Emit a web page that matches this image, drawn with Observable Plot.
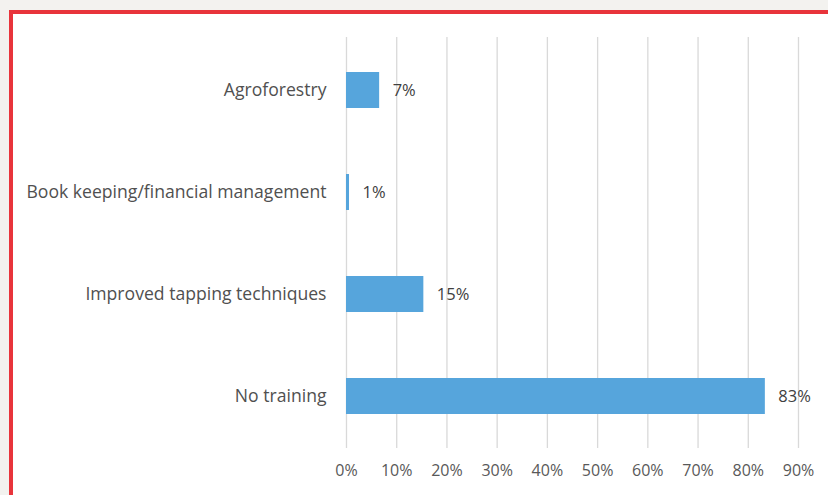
<!DOCTYPE html>
<html><head><meta charset="utf-8">
<script src="https://cdn.jsdelivr.net/npm/d3@7"></script>
<script src="https://cdn.jsdelivr.net/npm/@observablehq/plot@0.6"></script>
<style>
html,body{margin:0;padding:0;width:828px;height:495px;overflow:hidden;background:#f3f2ef;}
#frame{position:absolute;left:9px;top:10px;width:900px;height:600px;border:4px solid #e8343b;background:#fff;}
#chart{position:absolute;left:0;top:0;}
svg{font-family:"Open Sans",sans-serif;}
</style></head><body>
<div id="frame"></div>
<div id="chart"></div>
<script>
const categories = ["Agroforestry","Book keeping/financial management","Improved tapping techniques","No training"];
const values = [6.6, 0.6, 15.4, 83.4];
const xTicks = [0,10,20,30,40,50,60,70,80,90];

const data = categories.map((c,i)=>({category:c, value:values[i], label:Math.round(values[i])+"%"}));

const chart = Plot.plot({
  width: 828, height: 495,
  marginLeft: 346, marginRight: 30, marginTop: 37, marginBottom: 47,
  style: {background:"transparent", fontSize:"16px", fontFamily:"'Open Sans', sans-serif"},
  x: {domain:[0,90], ticks:xTicks, tickFormat:d=>d+"%", tickSize:0, tickPadding:16, label:null},
  y: {domain:categories, paddingInner:0.65, paddingOuter:0.325, tickSize:0, tickPadding:20, label:null},
  marks: [
    Plot.ruleX(xTicks, {stroke:"#d9d9d9", strokeWidth:1.3}),
    Plot.barX(data, {x:"value", y:"category", fill:"#56a5dc"}),
    Plot.text(data, {x:"value", y:"category", text:"label", textAnchor:"start", dx:13, fill:"#404040", fontSize:16.5}),
    Plot.axisX({ticks:xTicks, tickFormat:d=>d+"%", tickSize:0, tickPadding:16, fill:"#595959", label:null, fontSize:16}),
    Plot.axisY({tickSize:0, tickPadding:20, fill:"#505050", label:null, fontSize:17.6})
  ]
});
document.getElementById("chart").appendChild(chart);
</script>
</body></html>
